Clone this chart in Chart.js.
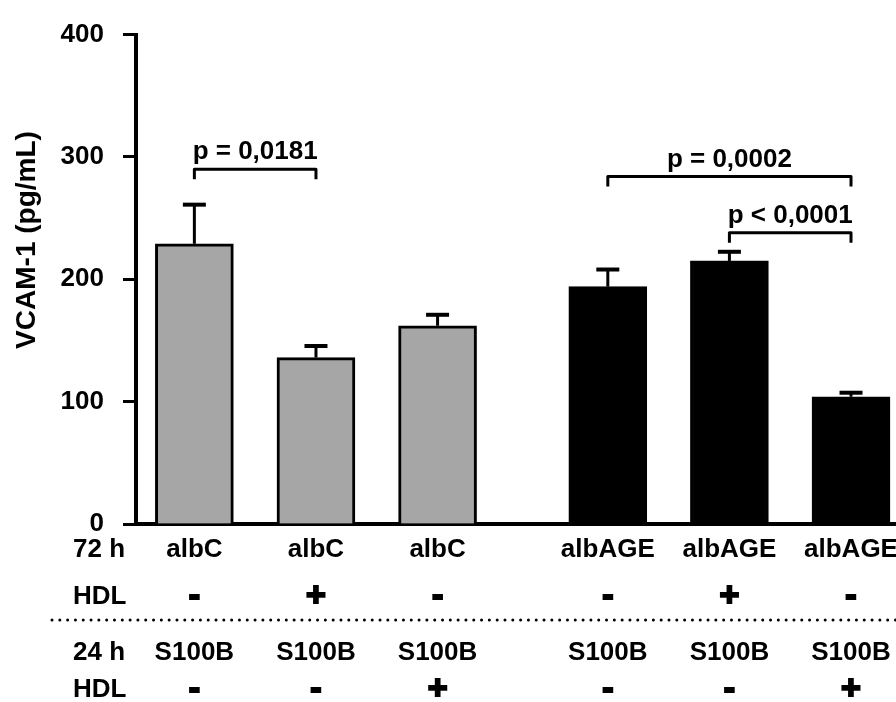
<!DOCTYPE html>
<html>
<head>
<meta charset="utf-8">
<script src="https://cdn.jsdelivr.net/npm/chart.js@4"></script>
<style>
  html, body { margin: 0; padding: 0; background: #fff; }
  canvas { display: block; }
</style>
</head>
<body>
<canvas id="c" width="896" height="702"></canvas>
<script>
// Treatment layout of the six culture conditions
const treat72 = ['albC', 'albC', 'albC', 'albAGE', 'albAGE', 'albAGE'];
const hdl72 = ['-', '+', '-', '-', '+', '-'];
const stim24 = ['S100B', 'S100B', 'S100B', 'S100B', 'S100B', 'S100B'];
const hdl24 = ['-', '-', '+', '-', '-', '+'];
const rowTitles = ['72 h', 'HDL', '24 h', 'HDL'];

// VCAM-1 secretion (pg/mL): mean and SEM
const vcamMean = [229, 136, 162, 194, 215, 104];
const vcamSem = [32, 9.5, 9, 14, 7.5, 3.3];

// Y axis ticks
const yTicks = [0, 100, 200, 300, 400];

// Statistical comparisons: bar pairs, bracket height (pg/mL), label
const comparePairs = [[0, 1], [3, 5], [4, 5]];
const compareLevels = [290, 284, 238];
const compareLabels = ['p = 0,0181', 'p = 0,0002', 'p < 0,0001'];

const FONT = '"Liberation Sans", Arial, Helvetica, sans-serif';
const GROUP_GAP = 0.4;

// bar slots: three per group, with a gap between the albC and albAGE groups
const slots = treat72.map((_, i) => (i % 3) + 1 + Math.floor(i / 3) * (3 + GROUP_GAP));
const fills = treat72.map(t => (t === 'albC' ? '#a6a6a6' : '#000000'));

const annotations = {
  id: 'annotations',
  afterDatasetsDraw(chart) {
    const { ctx, scales: { x, y } } = chart;
    ctx.save();
    ctx.strokeStyle = '#000';
    ctx.fillStyle = '#000';

    // error bars (upper SEM)
    vcamMean.forEach((m, i) => {
      const px = x.getPixelForValue(slots[i]);
      const base = y.getPixelForValue(m);
      const top = y.getPixelForValue(m + vcamSem[i]);
      ctx.lineWidth = 3;
      ctx.beginPath();
      ctx.moveTo(px, base);
      ctx.lineTo(px, top);
      ctx.stroke();
      ctx.lineWidth = 4;
      ctx.beginPath();
      ctx.moveTo(px - 11.5, top);
      ctx.lineTo(px + 11.5, top);
      ctx.stroke();
    });

    // significance brackets
    ctx.lineWidth = 3;
    ctx.lineJoin = 'round';
    ctx.font = 'bold 26px ' + FONT;
    ctx.textAlign = 'center';
    ctx.textBaseline = 'alphabetic';
    comparePairs.forEach(([a, b], k) => {
      const x1 = x.getPixelForValue(slots[a]);
      const x2 = x.getPixelForValue(slots[b]);
      const ly = y.getPixelForValue(compareLevels[k]);
      ctx.beginPath();
      ctx.moveTo(x1, ly + 10);
      ctx.lineTo(x1, ly);
      ctx.lineTo(x2, ly);
      ctx.lineTo(x2, ly + 10);
      ctx.stroke();
      ctx.fillText(compareLabels[k], (x1 + x2) / 2, ly - 10);
    });
    ctx.restore();
  },
  afterDraw(chart) {
    const { ctx, scales: { x } } = chart;
    ctx.save();
    ctx.fillStyle = '#000';
    ctx.strokeStyle = '#000';

    // y axis title
    ctx.save();
    ctx.translate(27, 240);
    ctx.rotate(-Math.PI / 2);
    ctx.font = 'bold 28px ' + FONT;
    ctx.textAlign = 'center';
    ctx.textBaseline = 'middle';
    ctx.fillText('VCAM-1 (pg/mL)', 0, 0);
    ctx.restore();

    // treatment table under the axis
    const rowY = [550, 597, 653, 690];
    const rows = [treat72, hdl72, stim24, hdl24];
    ctx.textBaseline = 'middle';
    ctx.font = 'bold 26px ' + FONT;
    ctx.textAlign = 'left';
    rowTitles.forEach((t, r) => ctx.fillText(t, 73, rowY[r]));

    rows.forEach((row, r) => {
      const isSign = row === hdl72 || row === hdl24;
      row.forEach((lab, i) => {
        const px = x.getPixelForValue(slots[i]);
        ctx.textAlign = 'center';
        if (isSign) {
          ctx.font = 'bold 34px ' + FONT;
          ctx.lineWidth = 2;
          ctx.fillText(lab, px, rowY[r]);
          ctx.strokeText(lab, px, rowY[r]);
        } else {
          ctx.font = 'bold 26px ' + FONT;
          ctx.fillText(lab, px, rowY[r]);
        }
      });
    });

    // dotted separator between the 72 h and 24 h blocks
    ctx.lineWidth = 3;
    ctx.lineCap = 'round';
    ctx.setLineDash([0.01, 7.8]);
    ctx.beginPath();
    ctx.moveTo(52, 620);
    ctx.lineTo(896, 620);
    ctx.stroke();
    ctx.restore();
  }
};

new Chart(document.getElementById('c'), {
  type: 'bar',
  data: {
    datasets: [{
      data: vcamMean.map((v, i) => ({ x: slots[i], y: v })),
      backgroundColor: fills,
      borderColor: '#000',
      borderWidth: 3,
      borderSkipped: 'start',
      barThickness: 78
    }]
  },
  options: {
    responsive: false,
    animation: false,
    layout: { padding: { top: 32, right: 0, bottom: 0, left: 0 } },
    plugins: {
      legend: { display: false },
      tooltip: { enabled: false }
    },
    scales: {
      x: {
        type: 'linear',
        offset: false,
        min: 0.52,
        max: 6.77,
        grid: { display: false, drawTicks: false },
        ticks: { display: false },
        border: { display: true, color: '#000', width: 4 },
        afterFit(scale) { scale.height = 178; }
      },
      y: {
        min: yTicks[0],
        max: yTicks[yTicks.length - 1],
        afterBuildTicks(scale) { scale.ticks = yTicks.map(v => ({ value: v })); },
        ticks: {
          color: '#000',
          padding: 19,
          font: { family: FONT, size: 26, weight: 'bold' }
        },
        grid: {
          drawOnChartArea: false,
          drawTicks: true,
          tickLength: 13,
          tickWidth: 3,
          tickColor: '#000'
        },
        border: { display: true, color: '#000', width: 4 },
        afterFit(scale) { scale.width = 136; }
      }
    }
  },
  plugins: [annotations]
});
</script>
</body>
</html>
